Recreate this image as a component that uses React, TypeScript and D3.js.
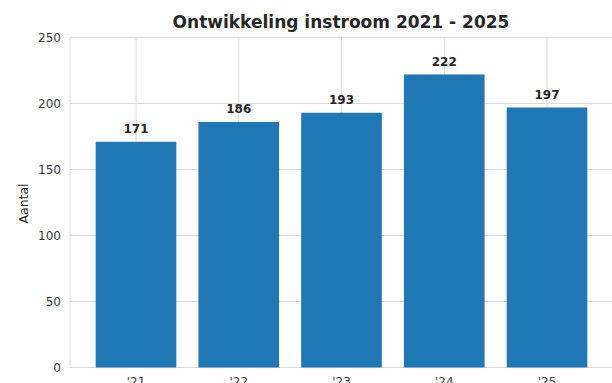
import React from "react";
import * as d3 from "d3";

const categories = ["'21", "'22", "'23", "'24", "'25"];
const values = [171, 186, 193, 222, 197];
const yTicks = [0, 50, 100, 150, 200, 250];

export default function App() {
  const W = 612, H = 383;
  const left = 70, right = 613, top = 37.5, bottom = 367.5;
  const x = d3.scalePoint<string>().domain(categories).range([136, 547]);
  const step = x.step();
  const bw = step * 0.785;
  const y = d3.scaleLinear().domain([0, 250]).range([bottom, top]);
  const font = "DejaVu Sans, sans-serif";
  return (
    <svg width={W} height={H} style={{ position: "absolute", left: 0, top: 0, background: "#fff" }} fontFamily={font}>
      {yTicks.map((t) => (
        <line key={"h" + t} x1={left} x2={right} y1={y(t)} y2={y(t)} stroke="#dcdcdc" strokeWidth={1} />
      ))}
      {categories.map((c) => (
        <line key={"v" + c} x1={x(c)} x2={x(c)} y1={top} y2={bottom} stroke="#dcdcdc" strokeWidth={1} />
      ))}
      <line x1={left} x2={left} y1={top} y2={bottom} stroke="#dcdcdc" />
      {categories.map((c, i) => (
        <rect key={"b" + c} x={(x(c) as number) - bw / 2} y={y(values[i])} width={bw} height={y(0) - y(values[i])} fill="#1f77b4" />
      ))}
      {categories.map((c, i) => (
        <text key={"l" + c} x={x(c)} y={y(values[i]) - 8.5} textAnchor="middle" fontSize={12} fontWeight="bold" fill="#262626">
          {values[i]}
        </text>
      ))}
      {yTicks.map((t) => (
        <text key={"yt" + t} x={61} y={y(t)} dy="0.35em" textAnchor="end" fontSize={12} fill="#3a3a3a">
          {t}
        </text>
      ))}
      {categories.map((c) => (
        <text key={"xt" + c} x={x(c)} y={386} textAnchor="middle" fontSize={12} fill="#3a3a3a">
          {c}
        </text>
      ))}
      <text transform={`translate(28,${(top + bottom) / 2 + 1}) rotate(-90)`} textAnchor="middle" fontSize={12.5} fill="#262626">
        Aantal
      </text>
      <text x={341} y={28} textAnchor="middle" fontSize={17} fontWeight="bold" fill="#262626">
        Ontwikkeling instroom 2021 - 2025
      </text>
    </svg>
  );
}
